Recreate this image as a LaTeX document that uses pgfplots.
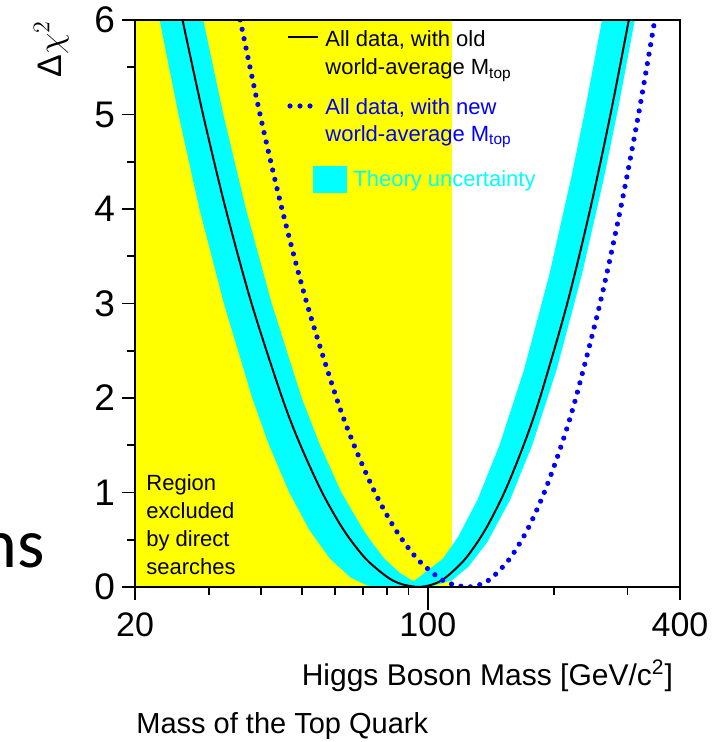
\documentclass[border=0pt]{standalone}
\usepackage{fontspec}
\setmainfont{Liberation Sans}
\newfontfamily\slidefont{Carlito}
\usepackage{pgfplots}
\pgfplotsset{compat=1.18}
\definecolor{excl}{RGB}{255,255,0}
\definecolor{band}{RGB}{0,255,255}
\definecolor{newblue}{RGB}{0,0,255}

\begin{document}
\begin{tikzpicture}
\path[use as bounding box] (-67.5pt,-77.5pt) rectangle (290.5pt,293.5pt);
\begin{axis}[
    at={(0,0)}, anchor=south west,
    scale only axis,
    width=272.5pt, height=283.5pt,
    xmode=log,
    xmin=20, xmax=400, ymin=0, ymax=6,
    xtick={20,100,400}, xticklabels={20,100,400},
    minor xtick={30,40,50,60,70,80,90,200,300},
    ytick={0,1,2,3,4,5,6},
    minor ytick={0.5,1.5,2.5,3.5,4.5,5.5},
    tick align=outside, tick pos=left,
    major tick length=6.5pt, minor tick length=4pt,
    every tick/.style={black, line width=0.8pt},
    axis line style={line width=1pt},
    /pgf/number format/assume math mode=true,
    xticklabel style={font=\fontsize{17}{17}\selectfont, yshift=-3pt},
    yticklabel style={font=\fontsize{18.5}{18.5}\selectfont},
    extra x ticks={100}, extra x tick labels={},
    extra x tick style={major tick length=11.5pt, grid=none},
    axis on top,
    xlabel={Higgs Boson Mass [GeV/c\textsuperscript{2}]},
    xlabel style={at={(axis description cs:1,0)}, anchor=base east,
        yshift=-49pt, font=\fontsize{15}{15}\selectfont},
]
% region excluded by direct searches
\addplot[draw=none, fill=excl] coordinates {(20,0) (114.4,0) (114.4,6) (20,6)} --cycle;

% theory uncertainty band (outline traced round the union of curves)
\addplot[draw=none, fill=band] coordinates {
    (22.2,6.3) (22.9,6) (25.4,5) (28.5,4) (32.6,3) (38.1,2) (41.8,1.5)
    (46.7,1) (52.2,0.6) (58.4,0.3) (65.4,0.1) (71.3,0.02) (76.4,0)
    (101,0) (114.1,0.07) (124.7,0.21) (138.5,0.47) (157.1,0.92) (177.5,1.5)
    (203.0,2.3) (233.1,3.3) (262.8,4.31) (285.8,5.1) (312.0,6) (320.8,6.3)
    (267.9,6.3) (260.5,6) (236.2,5) (219.4,4.31) (194.9,3.3) (169.7,2.3)
    (148.3,1.5) (131.3,0.92) (118.1,0.53) (108.7,0.3) (92.5,0.06)
    (85.7,0.15) (78.8,0.3) (73.6,0.47) (70.2,0.6) (62.2,1) (55.3,1.5)
    (50,2) (42.4,3) (36.8,4) (32.5,5) (29.1,6) (28.2,6.3)
} --cycle;

% all data, old world-average Mtop
\addplot[black, line width=1pt, smooth] coordinates {
    (25.14,6.3) (25.97,6) (29.07,5) (32.93,4) (37.96,3) (44.92,2)
    (49.66,1.5) (55.95,1) (63.03,0.6) (71.07,0.3) (80.35,0.1) (86.7,0.03)
    (95.0,0) (103.1,0.03) (110.3,0.1) (123.0,0.3) (136.9,0.6) (152.3,1)
    (169.3,1.5) (185.2,2) (215.2,3) (244.2,4) (272.9,5) (301.9,6) (310.7,6.3)
};

% all data, new world-average Mtop
\addplot[newblue, line width=2.6pt, line cap=round,
    dash pattern=on 0pt off 4.8pt, smooth] coordinates {
    (34.57,6.3) (35.66,6) (39.77,5) (44.86,4) (51.45,3) (60.52,2)
    (66.68,1.5) (74.79,1) (83.92,0.6) (94.25,0.3) (106.1,0.1) (114.1,0.03)
    (124.7,0) (134.1,0.03) (142.4,0.1) (156.9,0.3) (172.6,0.6) (189.7,1)
    (208.4,1.5) (225.6,2) (257.7,3) (288.4,4) (318.4,5) (348.2,6) (357.1,6.3)
};
\end{axis}

% legend
\draw[black, line width=1pt] (76.5pt,275pt) -- (91.5pt,275pt);
\node[anchor=base west, inner sep=0pt, font=\fontsize{11}{11}\selectfont] at (95pt,270.2pt) {All data, with old};
\node[anchor=base west, inner sep=0pt, font=\fontsize{11}{11}\selectfont] at (95pt,256pt) {world-average M\textsubscript{top}};
\draw[newblue, line width=2.6pt, line cap=round, dash pattern=on 0pt off 5pt] (77.5pt,240.5pt) -- (88pt,240.5pt);
\node[anchor=base west, inner sep=0pt, text=newblue, font=\fontsize{11}{11}\selectfont] at (95pt,236pt) {All data, with new};
\node[anchor=base west, inner sep=0pt, text=newblue, font=\fontsize{11}{11}\selectfont] at (95pt,222.7pt) {world-average M\textsubscript{top}};
\fill[band] (89pt,197pt) rectangle (106pt,210.5pt);
\node[anchor=base west, inner sep=0pt, text=band, font=\fontsize{11}{11}\selectfont] at (109pt,200pt) {Theory uncertainty};

% excluded-region note
\node[anchor=base west, inner sep=0pt, font=\fontsize{11}{11}\selectfont] at (5.5pt,48.2pt) {Region};
\node[anchor=base west, inner sep=0pt, font=\fontsize{11}{11}\selectfont] at (5.5pt,34pt) {excluded};
\node[anchor=base west, inner sep=0pt, font=\fontsize{11}{11}\selectfont] at (5.5pt,20pt) {by direct};
\node[anchor=base west, inner sep=0pt, font=\fontsize{11}{11}\selectfont] at (5.5pt,6pt) {searches};

% y label
\node[rotate=90, anchor=base east, inner sep=0pt, font=\fontsize{17}{17}\selectfont] at (-36.5pt,283.5pt) {Δ$\chi^{2}$};

% slide text around the figure
\node[anchor=base west, inner sep=0pt, font=\fontsize{14.5}{14.5}\selectfont] at (0.5pt,-73pt) {Mass of the Top Quark};
\node[anchor=base east, inner sep=0pt, font=\slidefont\fontsize{35}{35}\selectfont] at (-45pt,9.5pt) {ns};
\end{tikzpicture}
\end{document}
